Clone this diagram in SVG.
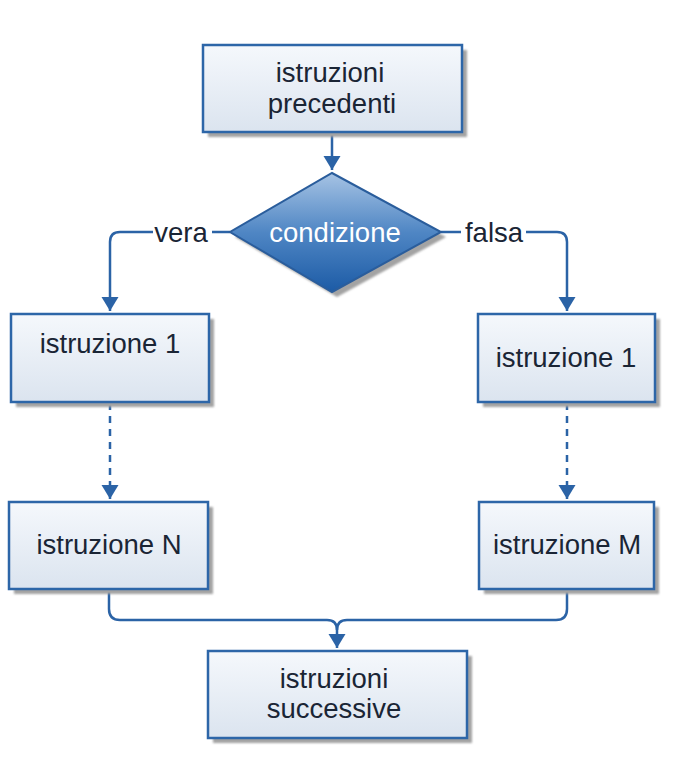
<svg xmlns="http://www.w3.org/2000/svg" width="674" height="758" viewBox="0 0 674 758">
  <defs>
    <linearGradient id="boxGrad" x1="0" y1="0" x2="0" y2="1">
      <stop offset="0" stop-color="#f5f8fc"/>
      <stop offset="1" stop-color="#dbe4ef"/>
    </linearGradient>
    <linearGradient id="diaGrad" x1="0" y1="0" x2="0" y2="1">
      <stop offset="0" stop-color="#a6c3e4"/>
      <stop offset="0.5" stop-color="#4f86c4"/>
      <stop offset="1" stop-color="#1c5ba6"/>
    </linearGradient>
    <filter id="blur" x="-10%" y="-10%" width="120%" height="120%">
      <feGaussianBlur stdDeviation="1"/>
    </filter>
    <marker id="arrow" markerUnits="userSpaceOnUse" markerWidth="18" markerHeight="18" refX="14" refY="8.5" orient="auto">
      <path d="M0,0 L14,8.5 L0,17 Z" fill="#2b63a6"/>
    </marker>
  </defs>
  <style>
    .shadow { fill: #a3a3a3; filter: url(#blur); }
    .box { fill: url(#boxGrad); stroke: #2d66a8; stroke-width: 2.5; }
    .dia { fill: url(#diaGrad); stroke: #2a5d9c; stroke-width: 2; }
    .txt { font-family: "Liberation Sans", Arial, sans-serif; font-size: 27.5px; fill: #1a2535; text-anchor: middle; }
    .wtxt { font-family: "Liberation Sans", Arial, sans-serif; font-size: 27.5px; fill: #ffffff; text-anchor: middle; }
    .conn { fill: none; stroke: #2b63a6; stroke-width: 2.5; }
    .dash { stroke-dasharray: 7 6; }
  </style>

  <g id="connectors">
    <path class="conn" d="M332,132 V170" marker-end="url(#arrow)"/>
    <path class="conn" d="M230,232 H212 M153,232 H120 Q110,232 110,242 V311" marker-end="url(#arrow)"/>
    <path class="conn" d="M441,232 H461 M526,232 H557 Q567,232 567,242 V311" marker-end="url(#arrow)"/>
    <path class="conn dash" d="M110,403 V499" marker-end="url(#arrow)"/>
    <path class="conn dash" d="M567,403 V499" marker-end="url(#arrow)"/>
    <path class="conn" d="M109,589 V609 Q109,620 120,620 H327 Q337,620 337,630 V648" marker-end="url(#arrow)"/>
    <path class="conn" d="M567,589 V609 Q567,620 556,620 H347 Q337,620 337,630"/>
    <text class="txt" x="181" y="242">vera</text>
    <text class="txt" x="494" y="242">falsa</text>
  </g>

  <g id="n-precedenti">
    <rect class="shadow" x="208" y="50" width="259" height="87"/>
    <rect class="box" x="203" y="45" width="259" height="87"/>
    <text class="txt" x="330" y="82">istruzioni</text>
    <text class="txt" x="332" y="113">precedenti</text>
  </g>

  <g id="n-condizione">
    <polygon class="shadow" points="337,178 446,237 337,297 235,237"/>
    <polygon class="dia" points="332,173 441,232 332,292 230,232"/>
    <text class="wtxt" x="335" y="242">condizione</text>
  </g>

  <g id="n-istr1-left">
    <rect class="shadow" x="16" y="319" width="198" height="88"/>
    <rect class="box" x="11" y="314" width="198" height="88"/>
    <text class="txt" x="110" y="353">istruzione 1</text>
  </g>

  <g id="n-istr1-right">
    <rect class="shadow" x="483" y="319" width="177" height="88"/>
    <rect class="box" x="478" y="314" width="177" height="88"/>
    <text class="txt" x="566" y="367">istruzione 1</text>
  </g>

  <g id="n-istrN">
    <rect class="shadow" x="14" y="507" width="199" height="87"/>
    <rect class="box" x="9" y="502" width="199" height="87"/>
    <text class="txt" x="109" y="554">istruzione N</text>
  </g>

  <g id="n-istrM">
    <rect class="shadow" x="484" y="507" width="175" height="87"/>
    <rect class="box" x="479" y="502" width="175" height="87"/>
    <text class="txt" x="567" y="554">istruzione M</text>
  </g>

  <g id="n-successive">
    <rect class="shadow" x="213" y="656" width="259" height="87"/>
    <rect class="box" x="208" y="651" width="259" height="87"/>
    <text class="txt" x="334" y="688">istruzioni</text>
    <text class="txt" x="334" y="718">successive</text>
  </g>
</svg>
